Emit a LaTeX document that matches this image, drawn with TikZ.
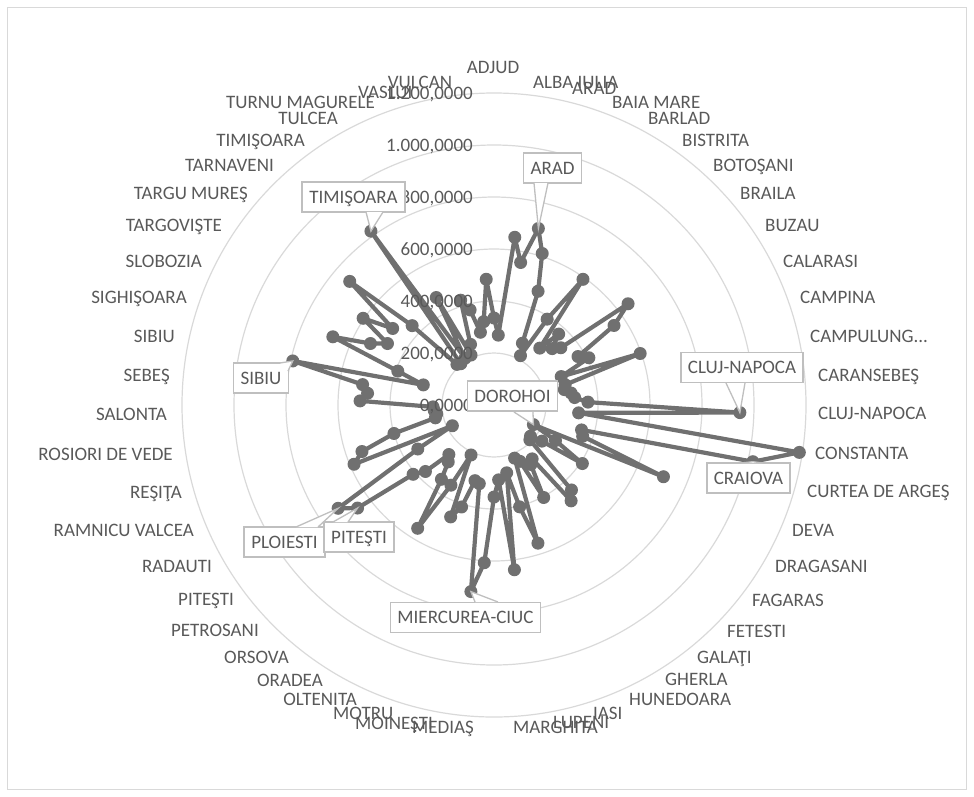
\documentclass[tikz,border=0pt]{standalone}
\usepackage{fontspec}
\setmainfont{Carlito}
\definecolor{ringgray}{RGB}{217,217,217}
\definecolor{seriesgray}{RGB}{112,112,112}
\definecolor{textgray}{RGB}{89,89,89}
\definecolor{calloutgray}{RGB}{191,191,191}
\begin{document}
\begin{tikzpicture}[x=1pt,y=-1pt,
  lab/.style={font=\fontsize{19}{23}\selectfont, text=textgray, inner sep=0pt,
    text height=12.2pt, text depth=0pt},
  ring/.style={draw=ringgray, line width=1.2pt},
  series/.style={draw=seriesgray, line width=4.2pt, line join=round},
  marker/.style={fill=seriesgray},
  callout/.style={lab, draw=calloutgray, fill=white, line width=1.6pt,
    inner xsep=7pt, minimum height=30pt},
  leader/.style={draw=calloutgray, line width=1.3pt, fill=white, line join=miter}]
\useasboundingbox (0,0) rectangle (974,796);
% chart frame
\draw[draw=ringgray, line width=1pt] (7.5,7.5) rectangle (966.5,789.5);

\coordinate (c) at (494,405);
% gridline rings, one per 200.000
\foreach \n in {1,...,6} \draw[ring] (c) circle[radius=\n*52pt];

% series: 102 categories, radius in px (52 px = 200.000)
\def\radii{87,70,169,145,182,159,122,68,56,101,
           154,73,96,81,88,168,144,97,106,73,
           155,74,72,78,81,94,246,85,309,265,
           91,94,184,44,71,106,60,48,50,115,
           123,66,70,105,62,57,145,105,69,166,
           75,92,158,188,80,78,107,120,55,91,
           145,91,73,67,95.5,106.5,171,187,88,46.5,
           152,140,104,60,58,60,61,134,127,133,
           206,73.5,102,175,138,123,157,127,190,114,
           55,53,213,55,122,55,65,110,98,74,
           84,126}
\begin{scope}[shift={(c)}]
  \foreach \r [count=\i from 0] in \radii
    \coordinate (p\i) at ({\i*(360/102)-90}:\r);
\end{scope}
\draw[series] (p0) \foreach \i in {1,...,101}{ -- (p\i) } -- cycle;
\foreach \i in {0,...,101} \fill[marker] (p\i) circle[radius=6.5pt];

% value axis labels
\foreach \v/\t [count=\n from 0] in {0/{0,0000},1/{200,0000},2/{400,0000},3/{600,0000},
    4/{800,0000},5/{1.000,0000},6/{1.200,0000}}
  \node[lab, anchor=east] (val\n) at (473,405-52*\v) {\t};

% category labels, right half
\node[lab] (lAdjud) at (493,67) {ADJUD};
\node[lab, anchor=west] (lAlba) at (533,82) {ALBA IULIA};
\node[lab, anchor=west] (lArad) at (572,88) {ARAD};
\node[lab, anchor=west] (lBaia) at (612,102) {BAIA MARE};
\node[lab, anchor=west] (lBarlad) at (648,118) {BARLAD};
\node[lab, anchor=west] (lBistrita) at (682,140) {BISTRITA};
\node[lab, anchor=west] (lBotosani) at (713,165) {BOTOŞANI};
\node[lab, anchor=west] (lBraila) at (740,193) {BRAILA};
\node[lab, anchor=west] (lBuzau) at (765,225) {BUZAU};
\node[lab, anchor=west] (lCalarasi) at (783,261) {CALARASI};
\node[lab, anchor=west] (lCampina) at (800,297) {CAMPINA};
\node[lab, anchor=west] (lCampulung) at (810,336) {CAMPULUNG...};
\node[lab, anchor=west] (lCaransebes) at (818,375) {CARANSEBEŞ};
\node[lab, anchor=west] (lCluj) at (818,413) {CLUJ-NAPOCA};
\node[lab, anchor=west] (lConstanta) at (815,453) {CONSTANTA};
\node[lab, anchor=west] (lCurtea) at (807,491) {CURTEA DE ARGEŞ};
\node[lab, anchor=west] (lDeva) at (792,530) {DEVA};
\node[lab, anchor=west] (lDragasani) at (775,566) {DRAGASANI};
\node[lab, anchor=west] (lFagaras) at (752,600) {FAGARAS};
\node[lab, anchor=west] (lFetesti) at (727,631) {FETESTI};
\node[lab, anchor=west] (lGalati) at (697,657) {GALAŢI};
\node[lab, anchor=west] (lGherla) at (665,679) {GHERLA};
\node[lab, anchor=west] (lHunedoara) at (629,699) {HUNEDOARA};
\node[lab, anchor=west] (lIasi) at (593,713) {IASI};
\node[lab, anchor=west] (lLupeni) at (553,722) {LUPENI};
\node[lab, anchor=west] (lMarghita) at (513,727) {MARGHITA};
% category labels, left half
\node[lab, anchor=west] (lMedias) at (412,727) {MEDIAŞ};
\node[lab, anchor=west] (lMoinesti) at (355,723) {MOINEŞTI};
\node[lab, anchor=west] (lMotru) at (333,713) {MOTRU};
\node[lab, anchor=east] (lOltenita) at (357,699) {OLTENITA};
\node[lab, anchor=east] (lOradea) at (323,680) {ORADEA};
\node[lab, anchor=east] (lOrsova) at (289,657) {ORSOVA};
\node[lab, anchor=east] (lPetrosani) at (259,630) {PETROSANI};
\node[lab, anchor=east] (lPitesti) at (234,599) {PITEŞTI};
\node[lab, anchor=east] (lRadauti) at (212,566) {RADAUTI};
\node[lab, anchor=east] (lRamnicu) at (194,530) {RAMNICU VALCEA};
\node[lab, anchor=east] (lResita) at (182,492) {REŞIŢA};
\node[lab, anchor=east] (lRosiori) at (173,454) {ROSIORI DE VEDE};
\node[lab, anchor=east] (lSalonta) at (167,414) {SALONTA};
\node[lab, anchor=east] (lSebes) at (170,375) {SEBEŞ};
\node[lab, anchor=east] (lSibiu) at (175,336) {SIBIU};
\node[lab, anchor=east] (lSighisoara) at (187,297) {SIGHIŞOARA};
\node[lab, anchor=east] (lSlobozia) at (202,261) {SLOBOZIA};
\node[lab, anchor=east] (lTargoviste) at (222,225) {TARGOVIŞTE};
\node[lab, anchor=east] (lTarguMures) at (248,193) {TARGU MUREŞ};
\node[lab, anchor=east] (lTarnaveni) at (274,165) {TARNAVENI};
\node[lab, anchor=east] (lTimisoara) at (305,140) {TIMIŞOARA};
\node[lab, anchor=east] (lTulcea) at (338,118) {TULCEA};
\node[lab, anchor=east] (lTurnu) at (375,102) {TURNU MAGURELE};
\node[lab, anchor=west] (lVaslui) at (358,92) {VASLUI};
\node[lab] (lVulcan) at (420,82) {VULCAN};

% data callouts
\node[callout] (cArad) at (552.5,168) {ARAD};
\filldraw[leader] (534,183) -- (p4) -- (548,183);
\node[callout] (cTimis) at (353.5,197) {TIMIŞOARA};
\filldraw[leader] (366,212) -- (p92) -- (383,212);
\node[callout] (cSibiu) at (261,378) {SIBIU};
\filldraw[leader] (280,363) -- (p80) -- (288,371);
\node[callout] (cPloiesti) at (284.5,542) {PLOIESTI};
\filldraw[leader] (296,527) -- (p67) -- (318,527);
\node[callout] (cPitesti) at (359,537) {PITEŞTI};
\filldraw[leader] (333,522) -- (p66) -- (348,522);
\node[callout] (cMiercurea) at (465.5,617.5) {MIERCUREA-CIUC};
\filldraw[leader] (475,602) -- (p53) -- (498,602);
\node[callout] (cCluj) at (742,367.5) {CLUJ-NAPOCA};
\filldraw[leader] (726,383) -- (p26) -- (745,383);
\node[callout] (cCraiova) at (748.5,478) {CRAIOVA};
\filldraw[leader] (741,463) -- (p29) -- (763,463);
\node[callout] (cDorohoi) at (512.5,396) {DOROHOI};
\filldraw[leader] (514,412) -- (p33) -- (533,412);
\end{tikzpicture}
\end{document}
